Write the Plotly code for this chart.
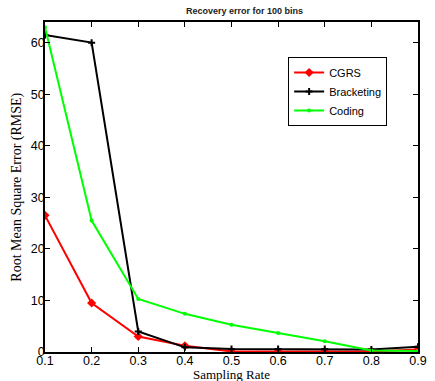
import plotly.graph_objects as go

rates = [0.1, 0.2, 0.3, 0.4, 0.5, 0.6, 0.7, 0.8, 0.9]
cgrs = [26.5, 9.5, 3.0, 1.2, 0.1, 0.1, 0.1, 0.1, 0.5]
bracketing = [61.5, 60.0, 4.0, 0.9, 0.6, 0.6, 0.6, 0.5, 1.0]
coding = [63.0, 25.5, 10.3, 7.4, 5.3, 3.7, 2.1, 0.3, 0.2]

W, H = 435, 381
L, R, T, B = 45, 8, 22, 29

fig = go.Figure()
fig.add_trace(go.Scatter(x=rates, y=cgrs, name="CGRS", mode="lines+markers",
                         line=dict(color="#ff0000", width=2),
                         marker=dict(symbol="diamond", size=7, color="#ff0000")))
fig.add_trace(go.Scatter(x=rates, y=bracketing, name="Bracketing", mode="lines+markers",
                         line=dict(color="#000000", width=2),
                         marker=dict(symbol="cross-thin", size=5, color="#000000",
                                     line=dict(color="#000000", width=2))))
fig.add_trace(go.Scatter(x=rates, y=coding, name="Coding", mode="lines+markers",
                         line=dict(color="#00ff00", width=2),
                         marker=dict(symbol="circle", size=4, color="#00ff00")))

serif = "Liberation Serif, Times New Roman"
sans = "Liberation Sans, Arial"

fig.update_layout(
    width=W, height=H,
    margin=dict(l=L, r=R, t=T, b=B),
    paper_bgcolor="white", plot_bgcolor="white",
    xaxis=dict(range=[0.1, 0.9], tickvals=rates, ticktext=[str(r) for r in rates],
               ticks="inside", ticklen=5, tickcolor="black", showline=True, linecolor="black",
               linewidth=1.5, mirror="ticks", showgrid=False, zeroline=False,
               ticklabelstandoff=-4,
               tickfont=dict(family=sans, size=12.5, color="black")),
    yaxis=dict(range=[0, 64], tickvals=[0, 10, 20, 30, 40, 50, 60],
               ticks="inside", ticklen=5, tickcolor="black", showline=True, linecolor="black",
               linewidth=1.5, mirror="ticks", showgrid=False, zeroline=False,
               ticklabelstandoff=-4,
               tickfont=dict(family=sans, size=12.5, color="black")),
    legend=dict(x=(294 - L) / (W - L - R), y=(H - B - 57) / (H - T - B),
                xanchor="left", yanchor="top",
                bordercolor="black", borderwidth=1, bgcolor="white",
                font=dict(family=sans, size=11, color="black"),
                tracegroupgap=0, itemwidth=30),
    showlegend=True,
    annotations=[
        dict(text="<b>Recovery error for 100 bins</b>", xref="paper", yref="paper",
             x=0.535, y=1 + 11 / (H - T - B), xanchor="center", yanchor="middle",
             showarrow=False, font=dict(family=sans, size=9, color="#222")),
        dict(text="Sampling Rate", xref="paper", yref="paper",
             x=0.5, y=-(374 - (H - B)) / (H - T - B), xanchor="center", yanchor="middle",
             showarrow=False, borderpad=0, font=dict(family=serif, size=13, color="black")),
        dict(text="Root Mean Square Error (RMSE)", xref="paper", yref="paper",
             x=-(L - 16) / (W - L - R), y=(H - B - 187) / (H - T - B), textangle=-90,
             xanchor="center", yanchor="middle",
             showarrow=False, font=dict(family=serif, size=14, color="black")),
    ],
)

fig.write_html("out.html", config={"displayModeBar": False},
               post_script="document.body.style.margin='0';document.body.style.padding='0';document.body.style.overflow='hidden';")
